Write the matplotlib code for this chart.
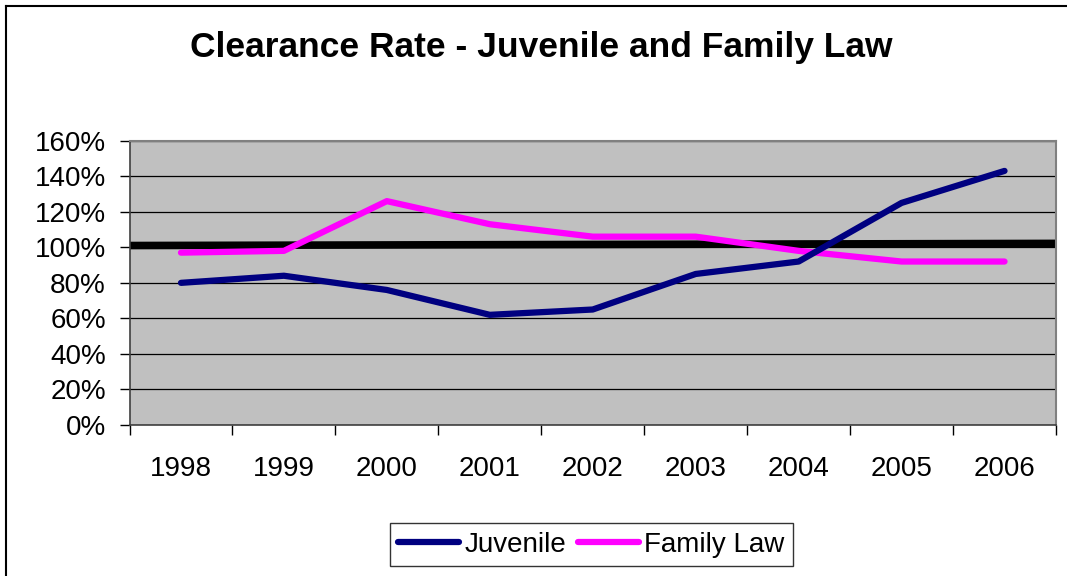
import matplotlib
matplotlib.use("Agg")
import matplotlib.pyplot as plt
from matplotlib.lines import Line2D
from matplotlib.ticker import FixedLocator, PercentFormatter

plt.rcParams['font.family'] = ['Liberation Sans', 'DejaVu Sans']

years = ['1998', '1999', '2000', '2001', '2002', '2003', '2004', '2005', '2006']
juvenile = [80, 84, 76, 62, 65, 85, 92, 125, 143]
family_law = [97, 98, 126, 113, 106, 106, 98, 92, 92]
benchmark = [101, 102.2]  # level at left and right edge of the plot
y_ticks = [0, 20, 40, 60, 80, 100, 120, 140, 160]

W, H = 1067, 576
fig = plt.figure(figsize=(W / 100, H / 100), dpi=100)
fig.patch.set_facecolor('white')

# chart-area frame (left and top edges)
fig.add_artist(Line2D([6 / W, 6 / W], [0, 1 - 6 / H], transform=fig.transFigure,
                      color='black', lw=1.5))
fig.add_artist(Line2D([6 / W, 1], [1 - 6 / H, 1 - 6 / H], transform=fig.transFigure,
                      color='black', lw=1.5))

left, right = 129.5 / W, 1056 / W
bottom, top = 1 - 425 / H, 1 - 140.7 / H
ax = fig.add_axes([left, bottom, right - left, top - bottom])
ax.set_facecolor('#C0C0C0')

x = list(range(len(years)))
ax.set_xlim(-0.5, len(years) - 0.5)
ax.set_ylim(y_ticks[0], y_ticks[-1])

ax.set_yticks(y_ticks)
ax.yaxis.set_major_formatter(PercentFormatter(decimals=0))
ax.grid(axis='y', color='black', lw=0.9)
ax.set_axisbelow(True)

# category boundaries carry the tick marks, centres carry the labels
ax.xaxis.set_major_locator(FixedLocator([i - 0.5 for i in range(len(years) + 1)]))
ax.xaxis.set_minor_locator(FixedLocator(x))
ax.set_xticklabels([])
ax.set_xticklabels(years, minor=True)
ax.tick_params(axis='x', which='major', length=7, width=1, color='black', direction='out')
ax.tick_params(axis='x', which='minor', length=0, pad=22, labelsize=20)
ax.tick_params(axis='y', length=7, width=1, color='black', direction='out', pad=10, labelsize=20)

for side in ('left', 'bottom'):
    ax.spines[side].set_color('#404040')
    ax.spines[side].set_linewidth(1.2)
for side in ('top', 'right'):
    ax.spines[side].set_color('#808080')
    ax.spines[side].set_linewidth(1.5)

ax.plot([-0.5, len(years) - 0.5], benchmark, color='black', lw=5.5, solid_capstyle='butt', zorder=2)
ax.plot(x, family_law, color='#FF00FF', lw=4.5, solid_capstyle='round', solid_joinstyle='round',
        label='Family Law', zorder=3)
ax.plot(x, juvenile, color='#000080', lw=4.5, solid_capstyle='round', solid_joinstyle='round',
        label='Juvenile', zorder=4)

handles, labels = ax.get_legend_handles_labels()
leg = fig.legend(handles[::-1], labels[::-1], loc='center', bbox_to_anchor=(591.5 / W, 1 - 544.5 / H),
                 ncol=2, fontsize=20, frameon=True, fancybox=False, edgecolor='black',
                 handlelength=2.2, handletextpad=0.2, columnspacing=0.4, borderpad=0.3,
                 borderaxespad=0)
leg.get_frame().set_linewidth(1.0)

fig.text(541 / W, 1 - 57 / H, 'Clearance Rate - Juvenile and Family Law', ha='center',
         va='baseline', fontsize=25.5, fontweight='bold')

fig.savefig('out.png', dpi=100)
